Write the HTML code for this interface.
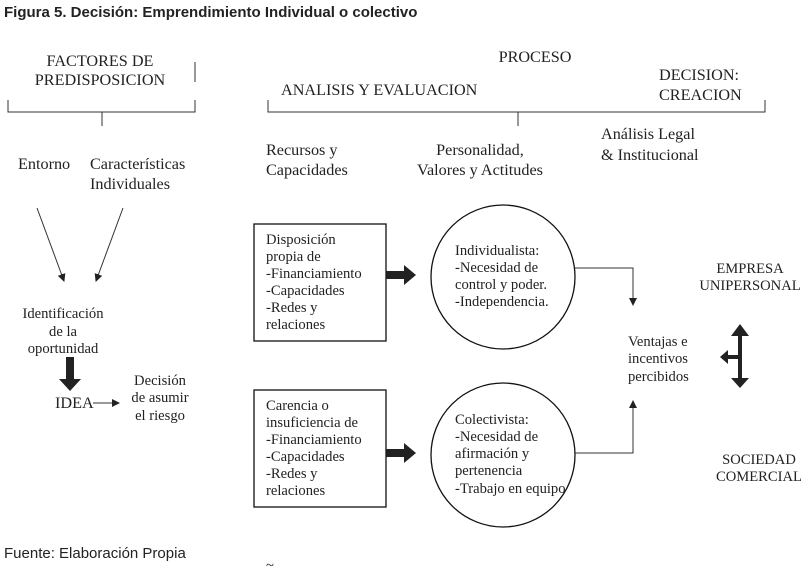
<!DOCTYPE html>
<html><head><meta charset="utf-8"><style>
body{margin:0;background:#fff;width:810px;height:569px;overflow:hidden}
svg text{font-family:"Liberation Serif",serif;font-size:16.2px;fill:#222}
svg .s{font-size:14.6px}
svg .a{font-family:"Liberation Sans",sans-serif;font-size:15px}
</style></head><body>
<svg width="810" height="569" viewBox="0 0 810 569">
<defs><marker id="m" markerWidth="8" markerHeight="8" refX="7" refY="4" orient="auto" markerUnits="userSpaceOnUse"><path d="M0,0 L8,4 L0,8z" fill="#222"/></marker></defs>
<text x="4" y="17" class="a" style="font-weight:bold">Figura 5. Decisión: Emprendimiento Individual o colectivo</text>
<g fill="none" stroke="#333" stroke-width="1">
<path d="M195,62V82"/>
<path d="M8,100V112H195V100M102,112V126"/>
<path d="M268,100V112H765V100M518,112V126"/>
<path d="M37,208L64,281" marker-end="url(#m)"/>
<path d="M123,208L96,281" marker-end="url(#m)"/>
<path d="M93,403H119" marker-end="url(#m)"/>
<rect x="254" y="224" width="132" height="117" stroke="#111" stroke-width="1.3"/>
<rect x="254" y="390" width="132" height="117" stroke="#111" stroke-width="1.3"/>
<circle cx="503" cy="277" r="72" stroke="#111" stroke-width="1.3"/>
<circle cx="503" cy="455" r="72" stroke="#111" stroke-width="1.3"/>
<path d="M575,268H633V305" marker-end="url(#m)"/>
<path d="M575,453H633V401" marker-end="url(#m)"/>
</g>
<g fill="#222">
<path d="M66,357h8v22h7l-11,12l-11,-12h7z"/>
<path d="M386,271h18v-6l12,10l-12,10v-6h-18z"/>
<path d="M386,449h18v-6l12,10l-12,10v-6h-18z"/>
<path d="M738,336h4v42h7l-9,10l-9,-10h7zM740,324l9,12h-18z"/>
<path d="M740,355v4h-12v5l-8,-7l8,-7v5z"/>
</g>
<text x="100" y="66" text-anchor="middle">FACTORES DE</text>
<text x="100" y="85" text-anchor="middle">PREDISPOSICION</text>
<text x="535" y="62" text-anchor="middle">PROCESO</text>
<text x="281" y="95">ANALISIS Y EVALUACION</text>
<text x="659" y="80">DECISION:</text>
<text x="659" y="100">CREACION</text>
<text x="18" y="169">Entorno</text>
<text x="90" y="169">Características</text>
<text x="90" y="189">Individuales</text>
<text x="266" y="155">Recursos y</text>
<text x="266" y="175">Capacidades</text>
<text x="480" y="155" text-anchor="middle">Personalidad,</text>
<text x="480" y="175" text-anchor="middle">Valores y Actitudes</text>
<text x="601" y="139">Análisis Legal</text>
<text x="601" y="160">&amp; Institucional</text>
<g>
<text x="63" y="318" text-anchor="middle" class="s">Identificación</text>
<text x="63" y="336" text-anchor="middle" class="s">de la</text>
<text x="63" y="353" text-anchor="middle" class="s">oportunidad</text>
<text x="55" y="408">IDEA</text>
<text x="160" y="385" text-anchor="middle" class="s">Decisión</text>
<text x="160" y="402" text-anchor="middle" class="s">de asumir</text>
<text x="160" y="420" text-anchor="middle" class="s">el riesgo</text>
<text x="266" y="244" class="s">Disposición</text>
<text x="266" y="261" class="s">propia de</text>
<text x="266" y="278" class="s">-Financiamiento</text>
<text x="266" y="295" class="s">-Capacidades</text>
<text x="266" y="312" class="s">-Redes y</text>
<text x="266" y="329" class="s">relaciones</text>
<text x="266" y="410" class="s">Carencia o</text>
<text x="266" y="427" class="s">insuficiencia de</text>
<text x="266" y="444" class="s">-Financiamiento</text>
<text x="266" y="461" class="s">-Capacidades</text>
<text x="266" y="478" class="s">-Redes y</text>
<text x="266" y="495" class="s">relaciones</text>
<text x="455" y="255" class="s">Individualista:</text>
<text x="455" y="272" class="s">-Necesidad de</text>
<text x="455" y="289" class="s">control y poder.</text>
<text x="455" y="306" class="s">-Independencia.</text>
<text x="455" y="424" class="s">Colectivista:</text>
<text x="455" y="441" class="s">-Necesidad de</text>
<text x="455" y="458" class="s">afirmación y</text>
<text x="455" y="475" class="s">pertenencia</text>
<text x="455" y="493" class="s">-Trabajo en equipo</text>
<text x="628" y="346" class="s">Ventajas e</text>
<text x="628" y="363" class="s">incentivos</text>
<text x="628" y="381" class="s">percibidos</text>
<text x="750" y="273" text-anchor="middle" class="s">EMPRESA</text>
<text x="750" y="290" text-anchor="middle" class="s">UNIPERSONAL</text>
<text x="759" y="464" text-anchor="middle" class="s">SOCIEDAD</text>
<text x="759" y="481" text-anchor="middle" class="s">COMERCIAL</text>
</g>
<text x="4" y="558" class="a">Fuente: Elaboración Propia</text>
<text x="266" y="570" class="s">~</text>
</svg>
</body></html>
